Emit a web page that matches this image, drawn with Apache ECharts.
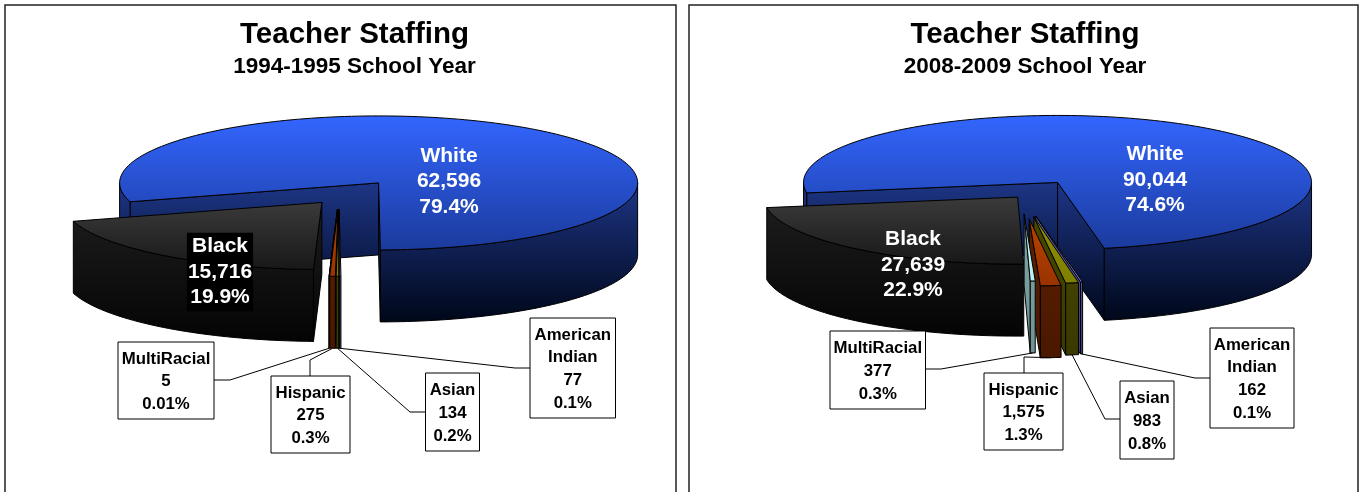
<!DOCTYPE html>
<html><head><meta charset="utf-8">
<style>html,body{margin:0;padding:0;background:#fff}#c{width:1359px;height:492px}</style>
<script src="https://cdn.jsdelivr.net/npm/echarts@6/dist/echarts.min.js"></script>
</head><body><div id="c"></div>
<script>
// ---- data ----
const categories = ['White','American Indian','Asian','Hispanic','MultiRacial','Black'];
const values1995 = [62596,77,134,275,5,15716];
const values2009 = [90044,162,983,1575,377,27639];
const percents1995 = ['79.4%','0.1%','0.2%','0.3%','0.01%','19.9%'];
const percents2009 = ['74.6%','0.1%','0.8%','1.3%','0.3%','22.9%'];
const years = ['1994-1995 School Year','2008-2009 School Year'];
const titleText = 'Teacher Staffing';

// ---- styles ----
const palette = [
  {top:['#3366ff','#1b3a9c'], side:['#1d3585','#000719']},
  {top:['#9999ff','#8080e0'], side:['#5c5ca8','#3c3c80']},
  {top:['#8f8f00','#7f7f00'], side:['#474700','#3a3a00']},
  {top:['#b84300','#993300'], side:['#5c2000','#4a1800']},
  {top:['#ccffff','#b8f0f0'], side:['#7fa3a3','#6f9494']},
  {top:['#3a3a3a','#181818'], side:['#1e1e1e','#040404']}
];
// ---- layout (one per chart) ----
const layouts = [
 {cx:339, cy:196.7, rx:259, ry:67, depth:72, start:253.65, frame:[5,5,671,620], tx:354.5,
  explode:[66.4,48.7,48.7,48.7,48.7,28],
  center:{0:[449,181.5,false],5:[220,272,true]},
  boxes:{4:[118,342,96,77,[[214,380],[230,380]],-1],3:[271,376,79,77,[[310,376],[310,360]],-1],
         2:[425.5,373,54,78,[[425.5,412],[410,412]],1],1:[530,318,85.5,100,[[530,368],[515,368]],1]}},
 {cx:1021.8, cy:195.8, rx:254, ry:67, depth:72, start:261, frame:[689,5,669,620], tx:1025,
  explode:[62,78,80,88,69,6.5],
  center:{0:[1155,180,false],5:[913,265,false]},
  boxes:{4:[830,331,95.5,78,[[925.5,369],[941,369]],-1],3:[984,373,79,77,[[1024,373],[1024,357]],-1],
         2:[1120,381,54,78,[[1120,419],[1105,419]],1],1:[1210,328,84,100,[[1210,378],[1195,378]],1]}}
];
const FONT = '"Liberation Sans", Arial, sans-serif';
const grad = (c, y0, y1) => new echarts.graphic.LinearGradient(0, y0, 0, y1, [{offset:0,color:c[0]},{offset:1,color:c[1]}], true);
const fmt = v => v.toLocaleString('en-US');
const rad = d => d*Math.PI/180;

function sliceSpans(values, L) {
  const total = values.reduce((a,b)=>a+b,0);
  let a = L.start;
  return values.map(v => { const s=[a, a+v/total*360]; a=s[1]; return s; });
}
// large slices first; the small ones back to front, furthest from the viewer's axis first
function paintOrder(spans) {
  const mid = i => { const m=(spans[i][0]+spans[i][1])/2; return Math.abs((m%360)-180); };
  const big=[0,5], small=[1,2,3,4].sort((p,q)=>mid(q)-mid(p));
  return big.concat(small);
}

function makeRender(values, percents, L, spans) {
  return function (params, api) {
    const i = api.value(1), [t0,t1] = spans[i], mid=(t0+t1)/2, e=L.explode[i], pal=palette[i];
    const ax = L.cx + e*Math.sin(rad(mid)), ay = L.cy - e*Math.cos(rad(mid))*L.ry/L.rx;
    const P = t => [ax+L.rx*Math.sin(rad(t)), ay-L.ry*Math.cos(rad(t))];
    const arc = (p,q) => { const n=Math.max(2,Math.ceil((q-p)/1.5)), r=[]; for(let k=0;k<=n;k++) r.push(P(p+(q-p)*k/n)); return r; };
    const down = p => [p[0],p[1]+L.depth];
    const children=[];
    const sideGrad = grad(pal.side, ay, ay+L.ry+L.depth);
    const poly=(pts,fill)=>children.push({type:'polygon',shape:{points:pts},style:{fill,stroke:'#000',lineWidth:1}});
    const wall = t => { const r=P(t); poly([[ax,ay],r,down(r),[ax,ay+L.depth]], sideGrad); };
    if (Math.sin(rad(t0))<0) wall(t0);
    if (Math.sin(rad(t1))>0) wall(t1);
    [[90,270],[450,630]].forEach(([u,v])=>{
      const p=Math.max(u,t0), q=Math.min(v,t1);
      if(q>p){ const top=arc(p,q); poly(top.concat(top.slice().reverse().map(down)), sideGrad); }
    });
    poly([[ax,ay]].concat(arc(t0,t1)), grad(pal.top, ay-(i===0?L.ry:0), ay+L.ry));
    const text=`${categories[i]}\n${fmt(values[i])}\n${percents[i]}`;
    if (L.center[i]) {
      const [tx,ty,bg]=L.center[i];
      children.push({type:'text',z2:5,style:{text,x:tx,y:ty,align:'center',verticalAlign:'middle',fill:'#fff',
        font:'bold 21px '+FONT,lineHeight:25.5,backgroundColor:bg?'#000':'transparent',padding:bg?[1,1,1,1]:0}});
    }
    if (L.boxes[i]) {
      const [bx,by,bw,bh,elbow]=L.boxes[i];
      const rimMid=down(P(mid));
      children.push({type:'polyline',z2:6,shape:{points:[[rimMid[0],rimMid[1]]].concat(elbow.slice().reverse())},style:{stroke:'#000',lineWidth:1,fill:null}});
      children.push({type:'rect',z2:7,shape:{x:bx,y:by,width:bw,height:bh},style:{fill:'#fff',stroke:'#000',lineWidth:1}});
      const boxText=categories[i]==='American Indian'?`American\nIndian\n${fmt(values[i])}\n${percents[i]}`:text;
      children.push({type:'text',z2:8,style:{text:boxText,x:bx+bw/2,y:by+bh/2+1.2,align:'center',verticalAlign:'middle',fill:'#000',
        font:'bold 16.8px '+FONT,lineHeight:22.8}});
    }
    return {type:'group',children};
  };
}
const sets=[[values1995,percents1995],[values2009,percents2009]];
const chart=echarts.init(document.getElementById('c'),null,{renderer:'canvas'});
chart.setOption({
  animation:false,
  backgroundColor:'#fff',
  title: layouts.flatMap((L,k)=>[
    {text:titleText,left:L.tx-5,top:15,textAlign:'center',textStyle:{fontFamily:FONT,fontWeight:'bold',fontSize:29.5,color:'#000'}},
    {text:years[k],left:L.tx-5,top:50,textAlign:'center',textStyle:{fontFamily:FONT,fontWeight:'bold',fontSize:22.5,color:'#000'}}
  ]),
  graphic: layouts.map(L=>({type:'rect',silent:true,shape:{x:L.frame[0],y:L.frame[1],width:L.frame[2],height:L.frame[3]},style:{fill:'#fff',stroke:'#222',lineWidth:1.5},z:-1})),
  series: layouts.map((L,k)=>{
    const spans=sliceSpans(sets[k][0],L);
    return {
      type:'custom',coordinateSystem:'none',silent:true,clip:false,
      renderItem:makeRender(sets[k][0],sets[k][1],L,spans),
      data:paintOrder(spans).map(i=>({name:categories[i],value:[sets[k][0][i],i]}))
    };
  })
});
</script></body></html>
